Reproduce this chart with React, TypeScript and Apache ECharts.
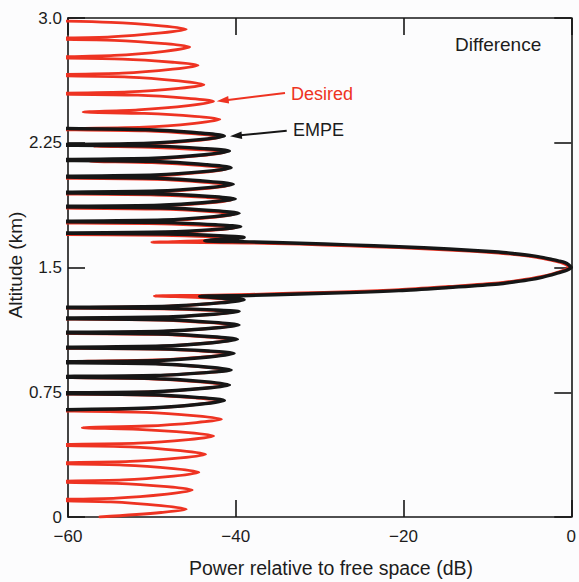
import React, { useEffect, useRef } from "react";
import * as echarts from "echarts";

// Axis ticks
const xTicks = [-60, -40, -20, 0];
const yTicks = [0, 0.75, 1.5, 2.25, 3.0];

// "Desired" curve (red): [power dB, altitude km]
const desiredUpper: [number, number][] = [
  [-64, 2.985], [-54.9, 2.974], [-48.9, 2.953], [-45.9, 2.932],
  [-48.9, 2.91], [-54.9, 2.887], [-64, 2.876],
  [-54.5, 2.866], [-48.5, 2.846], [-45.5, 2.826],
  [-48.5, 2.8], [-54.5, 2.775], [-64, 2.762],
  [-53.5, 2.753], [-47.5, 2.734], [-44.5, 2.716],
  [-47.5, 2.692], [-53.5, 2.668], [-64, 2.656],
  [-52.8, 2.645], [-46.8, 2.622], [-43.8, 2.599],
  [-46.8, 2.577], [-52.8, 2.556], [-64, 2.545],
  [-51.65, 2.536], [-45.65, 2.517], [-42.65, 2.499],
  [-45.65, 2.473], [-51.65, 2.448], [-58.2, 2.435],
  [-50.9, 2.426], [-44.9, 2.409], [-41.9, 2.391],
  [-44.9, 2.367], [-50.9, 2.344], [-64, 2.332],
  [-50.8, 2.321], [-44.8, 2.303], [-41.8, 2.285],
  [-44.8, 2.263], [-50.8, 2.241], [-57, 2.23],
  [-50.2, 2.223], [-44.2, 2.208], [-41.2, 2.194],
  [-44.2, 2.172], [-50.2, 2.15], [-57.4, 2.139],
  [-50.0, 2.13], [-44.0, 2.112], [-41.0, 2.094],
  [-44.0, 2.072], [-50.0, 2.05], [-64, 2.039],
  [-49.7, 2.03], [-43.7, 2.012], [-40.7, 1.994],
  [-43.7, 1.974], [-49.7, 1.954], [-64, 1.944],
  [-49.5, 1.936], [-43.5, 1.921], [-40.5, 1.906],
  [-43.5, 1.887], [-49.5, 1.868], [-64, 1.859],
  [-49.1, 1.851], [-43.1, 1.836], [-40.1, 1.82],
  [-43.1, 1.8], [-49.1, 1.779], [-64, 1.769],
  [-48.9, 1.763], [-42.9, 1.751], [-39.9, 1.739],
  [-42.9, 1.723], [-48.9, 1.707], [-64, 1.699],
  [-48.7, 1.694], [-42.7, 1.684], [-39.7, 1.674],
  [-42.7, 1.664], [-47.5, 1.655], [-50, 1.652],
];
const desiredMain: [number, number][] = [
  [-44, 1.65], [-38.4, 1.647], [-32.4, 1.64], [-26.5, 1.63], [-20.55, 1.619],
  [-14.6, 1.605], [-8.67, 1.587], [-6.7, 1.577], [-4.72, 1.565], [-3.5, 1.555],
  [-2.34, 1.543], [-1.55, 1.534], [-0.9, 1.523], [-0.5, 1.512], [-0.35, 1.5],
  [-0.5, 1.492], [-0.9, 1.484], [-1.55, 1.473], [-2.34, 1.461], [-3.5, 1.447],
  [-4.72, 1.435], [-6.7, 1.42], [-8.67, 1.407], [-14.6, 1.386], [-20.55, 1.367],
  [-26.5, 1.355], [-32.4, 1.347], [-38.4, 1.338], [-44, 1.333],
];
const desiredLower: [number, number][] = [
  [-49.7, 1.329], [-47.2, 1.325], [-42.5, 1.314], [-39.5, 1.304],
  [-42.5, 1.285], [-48.5, 1.266], [-64, 1.257],
  [-49.1, 1.252], [-43.1, 1.243], [-40.1, 1.233],
  [-43.1, 1.217], [-49.1, 1.2], [-64, 1.192],
  [-49.1, 1.184], [-43.1, 1.168], [-40.1, 1.152],
  [-43.1, 1.134], [-49.1, 1.115], [-64, 1.106],
  [-49.3, 1.098], [-43.3, 1.082], [-40.3, 1.066],
  [-43.3, 1.046], [-49.3, 1.026], [-64, 1.016],
  [-49.7, 1.009], [-43.7, 0.996], [-40.7, 0.982],
  [-43.7, 0.963], [-49.7, 0.944], [-58.6, 0.935],
  [-50.0, 0.924], [-44.0, 0.903], [-41.0, 0.882],
  [-44.0, 0.866], [-50.0, 0.849], [-64, 0.841],
  [-50.3, 0.831], [-44.3, 0.812], [-41.3, 0.792],
  [-44.3, 0.772], [-50.3, 0.752], [-64, 0.742],
  [-50.8, 0.733], [-44.8, 0.716], [-41.8, 0.699],
  [-44.8, 0.676], [-50.8, 0.653], [-64, 0.641],
  [-50.7, 0.629], [-44.7, 0.608], [-41.7, 0.588],
  [-44.7, 0.568], [-50.7, 0.547], [-58.3, 0.537],
  [-51.65, 0.527], [-45.65, 0.507], [-42.65, 0.487],
  [-45.65, 0.465], [-51.65, 0.444], [-64, 0.433],
  [-52.6, 0.422], [-46.6, 0.399], [-43.6, 0.377],
  [-46.6, 0.355], [-52.6, 0.334], [-64, 0.323],
  [-53.4, 0.312], [-47.4, 0.291], [-44.4, 0.269],
  [-47.4, 0.246], [-53.4, 0.223], [-64, 0.212],
  [-54.2, 0.202], [-48.2, 0.182], [-45.2, 0.162],
  [-48.2, 0.138], [-54.2, 0.114], [-64, 0.102],
  [-54.9, 0.091], [-48.9, 0.068], [-45.9, 0.046],
  [-48.9, 0.027], [-56.2, 0.0],
];

// "EMPE" curve (black)
const empeUpper: [number, number][] = [
  [-64, 2.337], [-50.35, 2.328], [-44.35, 2.309], [-41.35, 2.291],
  [-44.35, 2.269], [-50.35, 2.248], [-64, 2.237],
  [-49.75, 2.23], [-43.75, 2.215], [-40.75, 2.2],
  [-43.75, 2.178], [-49.75, 2.157], [-64, 2.146],
  [-49.55, 2.137], [-43.55, 2.118], [-40.55, 2.1],
  [-43.55, 2.078], [-49.55, 2.057], [-64, 2.046],
  [-49.3, 2.037], [-43.3, 2.018], [-40.3, 2.0],
  [-43.3, 1.98], [-49.3, 1.96], [-64, 1.95],
  [-49.05, 1.942], [-43.05, 1.927], [-40.05, 1.912],
  [-43.05, 1.894], [-49.05, 1.875], [-64, 1.866],
  [-48.6, 1.858], [-42.6, 1.842], [-39.6, 1.826],
  [-42.6, 1.806], [-48.6, 1.786], [-64, 1.776],
  [-48.4, 1.77], [-42.4, 1.757], [-39.4, 1.745],
  [-42.4, 1.729], [-48.4, 1.714], [-64, 1.706],
  [-48.0, 1.701], [-42.0, 1.691], [-39.0, 1.681],
  [-41.5, 1.67], [-43.7, 1.661],
];
const empeMain: [number, number][] = [
  [-38.4, 1.654], [-32.4, 1.646], [-26.5, 1.636], [-20.55, 1.625],
  [-14.6, 1.611], [-8.67, 1.593], [-6.7, 1.583], [-4.72, 1.571], [-3.5, 1.561],
  [-2.34, 1.549], [-1.55, 1.54], [-0.75, 1.529], [-0.3, 1.516], [0, 1.5],
  [-0.3, 1.49], [-0.75, 1.48], [-1.55, 1.468], [-2.34, 1.455], [-3.5, 1.441],
  [-4.72, 1.429], [-6.7, 1.414], [-8.67, 1.401], [-14.6, 1.38], [-20.55, 1.361],
  [-26.5, 1.349], [-32.4, 1.341], [-38.4, 1.332],
];
const empeLower: [number, number][] = [
  [-44.3, 1.326], [-41.5, 1.315], [-39.0, 1.305],
  [-42.0, 1.287], [-48.0, 1.268], [-64, 1.259],
  [-48.6, 1.254], [-42.6, 1.245], [-39.6, 1.235],
  [-42.6, 1.219], [-48.6, 1.202], [-64, 1.194],
  [-48.6, 1.186], [-42.6, 1.17], [-39.6, 1.154],
  [-42.6, 1.136], [-48.6, 1.117], [-64, 1.108],
  [-48.8, 1.1], [-42.8, 1.084], [-39.8, 1.068],
  [-42.8, 1.048], [-48.8, 1.028], [-64, 1.018],
  [-49.2, 1.011], [-43.2, 0.998], [-40.2, 0.984],
  [-43.2, 0.962], [-49.2, 0.941], [-64, 0.93],
  [-49.55, 0.921], [-43.55, 0.902], [-40.55, 0.884],
  [-43.55, 0.868], [-49.55, 0.851], [-64, 0.843],
  [-49.75, 0.833], [-43.75, 0.814], [-40.75, 0.794],
  [-43.75, 0.774], [-49.75, 0.754], [-64, 0.744],
  [-50.35, 0.735], [-44.35, 0.718], [-41.35, 0.701],
  [-44.35, 0.678], [-50.35, 0.655], [-64, 0.643],
];

const RED = "#ee3322";
const INK = "#161616";
const FONT = '"Liberation Sans", Arial, Helvetica, sans-serif';

const fmtX = (v: number) => (v < 0 ? "\u2212" + Math.abs(v) : String(v));
const fmtY = (v: number) => (v === 3 ? "3.0" : String(v));

export default function App() {
  const ref = useRef<HTMLDivElement>(null);
  useEffect(() => {
    if (!ref.current) return;
    const chart = echarts.init(ref.current, undefined, { renderer: "svg" });
    const xStep = xTicks[1] - xTicks[0];
    const yStep = yTicks[1] - yTicks[0];
    const axisLine = { show: true, onZero: false, lineStyle: { color: INK, width: 1.6 } };
    const axisTick = { show: true, inside: true, length: 17, lineStyle: { color: INK, width: 1.6 } };
    const xBase = {
      type: "value",
      min: xTicks[0],
      max: xTicks[xTicks.length - 1],
      interval: xStep,
      axisLine,
      axisTick,
      splitLine: { show: false },
    };
    const yBase = {
      type: "value",
      min: yTicks[0],
      max: yTicks[yTicks.length - 1],
      interval: yStep,
      axisLine,
      axisTick,
      splitLine: { show: false },
    };
    chart.setOption({
      animation: false,
      backgroundColor: "#fcfcfd",
      grid: { left: 68, right: 6, top: 18, bottom: 65 },
      xAxis: [
        {
          ...xBase,
          position: "bottom",
          axisLabel: { formatter: fmtX, fontSize: 17, color: "#1c1c1c", margin: 11, fontFamily: FONT },
        },
        { ...xBase, position: "top", axisLabel: { show: false } },
      ],
      yAxis: [
        {
          ...yBase,
          position: "left",
          axisLabel: { formatter: fmtY, fontSize: 17, color: "#1c1c1c", margin: 6, fontFamily: FONT },
        },
        { ...yBase, position: "right", axisLabel: { show: false } },
      ],
      series: [
        {
          name: "Desired",
          type: "line",
          xAxisIndex: 0,
          yAxisIndex: 0,
          data: [...desiredUpper, ...desiredMain, ...desiredLower],
          symbol: "none",
          smooth: 0.3,
          clip: true,
          z: 2,
          lineStyle: { color: RED, width: 2.8, join: "round", cap: "round" },
        },
        {
          name: "EMPE",
          type: "line",
          xAxisIndex: 0,
          yAxisIndex: 0,
          data: [...empeUpper, ...empeMain, ...empeLower],
          symbol: "none",
          smooth: 0.3,
          clip: true,
          z: 3,
          lineStyle: { color: INK, width: 3.4, join: "round", cap: "round" },
        },
      ],
      graphic: [
        {
          type: "text",
          x: 455,
          y: 44,
          style: { text: "Difference", fontSize: 19, fontFamily: FONT, fill: "#1c1c1c", align: "left", verticalAlign: "middle" },
        },
        {
          type: "text",
          x: 291,
          y: 94,
          style: { text: "Desired", fontSize: 18, fontFamily: FONT, fill: RED, align: "left", verticalAlign: "middle" },
        },
        {
          type: "text",
          x: 293,
          y: 130,
          style: { text: "EMPE", fontSize: 18, fontFamily: FONT, fill: "#1c1c1c", align: "left", verticalAlign: "middle" },
        },
        {
          type: "line",
          shape: { x1: 285, y1: 93, x2: 226, y2: 100.2 },
          style: { stroke: RED, lineWidth: 2 },
        },
        {
          type: "polygon",
          shape: { points: [[216.7, 101.3], [229.1, 103.6], [228.2, 96.1]] },
          style: { fill: RED },
        },
        {
          type: "line",
          shape: { x1: 286.7, y1: 130.7, x2: 238, y2: 135.5 },
          style: { stroke: INK, lineWidth: 2 },
        },
        {
          type: "polygon",
          shape: { points: [[230, 136.3], [242.2, 138.9], [241.5, 131.4]] },
          style: { fill: INK },
        },
        {
          type: "text",
          x: 331,
          y: 568,
          style: { text: "Power relative to free space (dB)", fontSize: 19.5, fontFamily: FONT, fill: "#1c1c1c", align: "center", verticalAlign: "middle" },
        },
        {
          type: "text",
          x: 15,
          y: 265,
          rotation: Math.PI / 2,
          style: { text: "Altitude (km)", fontSize: 19, fontFamily: FONT, fill: "#1c1c1c", align: "center", verticalAlign: "middle" },
        },
      ],
    });
    return () => chart.dispose();
  }, []);
  return (
    <div
      ref={ref}
      style={{ position: "fixed", left: 0, top: 0, width: 579, height: 582 }}
    />
  );
}
